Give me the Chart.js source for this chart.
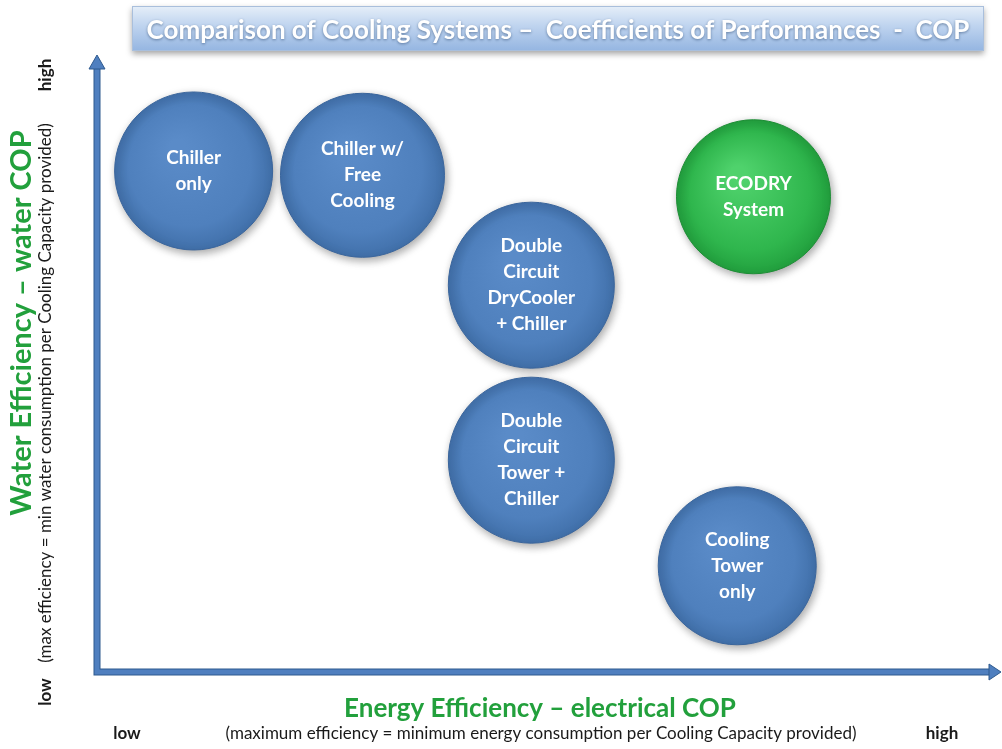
<!DOCTYPE html>
<html>
<head>
<meta charset="utf-8">
<script src="https://cdn.jsdelivr.net/npm/chart.js@4.4.1/dist/chart.umd.min.js"></script>
<style>
    body { margin: 0; background: #fff; }
    #wrap { width: 1002px; height: 749px; position: relative; }
</style>
</head>
<body>
<div id="wrap"><canvas id="copChart"></canvas></div>
<script>
// Systems placed on the two efficiency axes (0 = low, 100 = high)
const systems = ['Chiller\nonly', 'Chiller w/\nFree\nCooling', 'Double\nCircuit\nDryCooler\n+ Chiller',
    'Double\nCircuit\nTower +\nChiller', 'ECODRY\nSystem', 'Cooling\nTower\nonly'];
const energyCop = [10.7, 29.4, 48.1, 48.1, 72.7, 70.9];
const waterCop = [81.6, 80.9, 63.0, 34.5, 77.4, 17.3];
const bubbleSize = [79, 82, 83, 83, 77, 79];
const isEcodry = [false, false, false, false, true, false];

const axisLabels = {
    title: 'Comparison of Cooling Systems \u2013  Coefficients of Performances  -  COP',
    x: 'Energy Efficiency \u2013 electrical COP',
    xSub: '(maximum efficiency = minimum energy consumption per Cooling Capacity provided)',
    y: 'Water Efficiency \u2013 water COP',
    ySub: '(max efficiency = min water consumption per Cooling Capacity provided)',
    low: 'low',
    high: 'high'
};

const FONT = 'Lato, "Open Sans", sans-serif';

function bubbleFill(context) {
    const chart = context.chart;
    const raw = context.raw;
    if (!chart.chartArea || !raw) return '#4f81bd';
    const x = chart.scales.x.getPixelForValue(raw.x);
    const y = chart.scales.y.getPixelForValue(raw.y);
    const r = raw.r;
    const g = chart.ctx.createRadialGradient(x - r * 0.2, y - r * 0.3, r * 0.1, x, y, r);
    if (raw.green) {
        g.addColorStop(0, '#4fd26c');
        g.addColorStop(0.75, '#2fb64d');
        g.addColorStop(1, '#22a03e');
    } else {
        g.addColorStop(0, '#5a8bc8');
        g.addColorStop(0.75, '#4f80bd');
        g.addColorStop(1, '#4170aa');
    }
    return g;
}

// frame, arrows and texts around the bubbles
const decorPlugin = {
    id: 'decor',
    beforeDatasetsDraw(chart) {
        const ctx = chart.ctx;
        const a = chart.chartArea;
        ctx.save();

        // title box
        const bx = 132, by = 6, bw = 852, bh = 45;
        ctx.shadowColor = 'rgba(0,0,0,0.35)';
        ctx.shadowBlur = 6;
        ctx.shadowOffsetY = 3;
        const tg = ctx.createLinearGradient(0, by, 0, by + bh);
        tg.addColorStop(0, '#e6eff9');
        tg.addColorStop(0.4, '#c2d6f0');
        tg.addColorStop(1, '#94b5e1');
        ctx.fillStyle = tg;
        ctx.fillRect(bx, by, bw, bh);
        ctx.shadowColor = 'transparent';
        ctx.strokeStyle = '#a9bfdc';
        ctx.lineWidth = 1;
        ctx.strokeRect(bx + 0.5, by + 0.5, bw - 1, bh - 1);
        ctx.font = 'bold 26px ' + FONT;
        ctx.textAlign = 'center';
        ctx.textBaseline = 'middle';
        ctx.shadowColor = 'rgba(40,70,110,0.6)';
        ctx.shadowBlur = 3;
        ctx.shadowOffsetY = 1;
        ctx.fillStyle = '#ffffff';
        ctx.fillText(axisLabels.title, 558, 31);
        ctx.shadowColor = 'transparent';

        // axis arrows
        const x0 = a.left, y0 = a.bottom;
        ctx.lineCap = 'butt';
        ctx.lineJoin = 'miter';
        ctx.strokeStyle = '#2f5a8e';
        ctx.lineWidth = 7;
        ctx.beginPath();
        ctx.moveTo(x0, 68); ctx.lineTo(x0, y0); ctx.lineTo(a.right - 8, y0);
        ctx.stroke();
        ctx.strokeStyle = '#4f7fbf';
        ctx.lineWidth = 5;
        ctx.stroke();
        ctx.fillStyle = '#4f7fbf';
        ctx.strokeStyle = '#2f5a8e';
        ctx.lineWidth = 1;
        ctx.beginPath();
        ctx.moveTo(x0, 55); ctx.lineTo(x0 - 8, 69); ctx.lineTo(x0 + 8, 69); ctx.closePath();
        ctx.fill(); ctx.stroke();
        ctx.beginPath();
        ctx.moveTo(a.right + 1, y0); ctx.lineTo(a.right - 11, y0 - 8); ctx.lineTo(a.right - 11, y0 + 8); ctx.closePath();
        ctx.fill(); ctx.stroke();

        // x axis texts
        ctx.textBaseline = 'middle';
        ctx.fillStyle = '#22a03c';
        ctx.font = 'bold 26px ' + FONT;
        ctx.fillText(axisLabels.x, 540, 709);
        ctx.fillStyle = '#1a1a1a';
        ctx.font = '17px ' + FONT;
        ctx.fillText(axisLabels.xSub, 541, 734);
        ctx.font = 'bold 17px ' + FONT;
        ctx.fillText(axisLabels.low, 127, 734);
        ctx.fillText(axisLabels.high, 942, 734);

        // y axis texts (rotated)
        ctx.save();
        ctx.translate(22, 323);
        ctx.rotate(-Math.PI / 2);
        ctx.fillStyle = '#22a03c';
        ctx.font = 'bold 29px ' + FONT;
        ctx.fillText(axisLabels.y, 0, 0);
        ctx.restore();

        ctx.save();
        ctx.translate(46, 0);
        ctx.rotate(-Math.PI / 2);
        ctx.fillStyle = '#1a1a1a';
        ctx.font = '17px ' + FONT;
        ctx.fillText(axisLabels.ySub, -393, 0);
        ctx.font = 'bold 17px ' + FONT;
        ctx.fillText(axisLabels.low, -692, 0);
        ctx.fillText(axisLabels.high, -75, 0);
        ctx.restore();

        // soft shadow under bubbles
        ctx.restore();
        ctx.save();
        ctx.shadowColor = 'rgba(0,0,0,0.35)';
        ctx.shadowBlur = 8;
        ctx.shadowOffsetX = 2;
        ctx.shadowOffsetY = 3;
    },
    afterDatasetsDraw(chart) {
        const ctx = chart.ctx;
        ctx.restore();
        ctx.save();
        ctx.fillStyle = '#ffffff';
        ctx.font = 'bold 19px ' + FONT;
        ctx.textAlign = 'center';
        ctx.textBaseline = 'middle';
        const meta = chart.getDatasetMeta(0);
        meta.data.forEach((pt, i) => {
            const lines = systems[i].split('\n');
            const lh = 26;
            const top = pt.y - (lines.length - 1) * lh / 2;
            lines.forEach((ln, k) => ctx.fillText(ln, pt.x, top + k * lh));
        });
        ctx.restore();
    }
};

const points = systems.map((s, i) => ({
    x: energyCop[i],
    y: waterCop[i],
    r: bubbleSize[i],
    green: isEcodry[i]
}));

new Chart(document.getElementById('copChart').getContext('2d'), {
    type: 'bubble',
    data: {
        labels: systems,
        datasets: [{
            label: 'Cooling systems',
            data: points,
            backgroundColor: bubbleFill,
            borderColor: function(context) {
                return context.raw && context.raw.green ? '#1d8d35' : '#3a659c';
            },
            borderWidth: 1,
            hoverRadius: 0
        }]
    },
    options: {
        responsive: true,
        maintainAspectRatio: false,
        animation: false,
        layout: {
            autoPadding: false,
            padding: { left: 97, right: 2, top: 58, bottom: 77 }
        },
        scales: {
            x: { min: 0, max: 100, display: false },
            y: { min: 0, max: 100, display: false }
        },
        plugins: {
            legend: { display: false },
            tooltip: { enabled: false }
        }
    },
    plugins: [decorPlugin]
});
</script>
</body>
</html>
